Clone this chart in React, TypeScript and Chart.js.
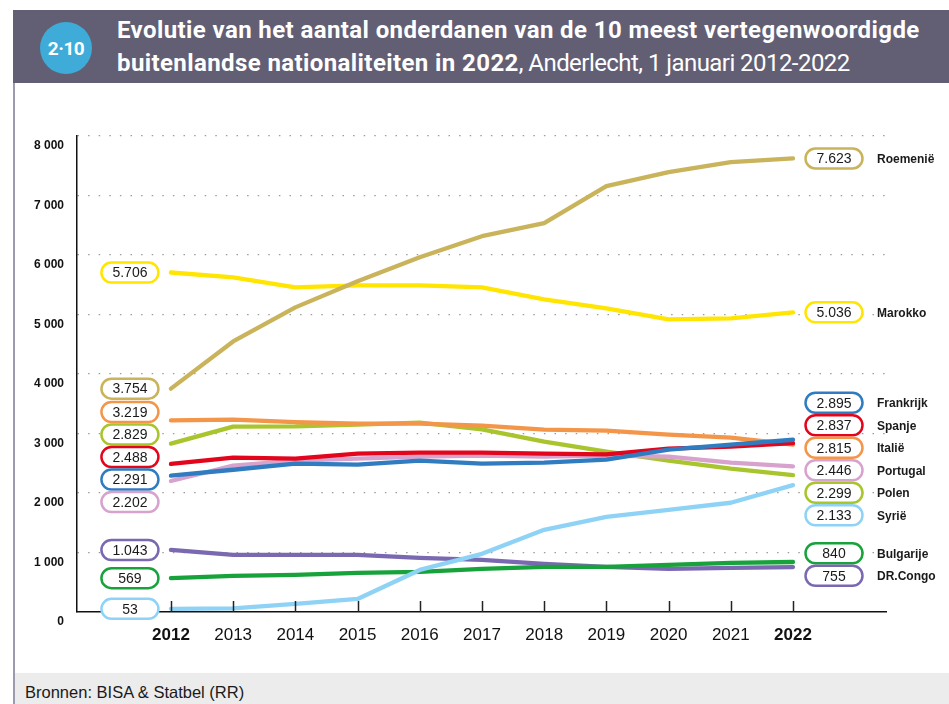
import React, { useEffect, useRef } from "react";
import { Chart, registerables } from "chart.js";

Chart.register(...registerables);

const years = [2012, 2013, 2014, 2015, 2016, 2017, 2018, 2019, 2020, 2021, 2022];
const yTicks = [0, 1000, 2000, 3000, 4000, 5000, 6000, 7000, 8000];

const roemenie = [3754, 4547, 5120, 5558, 5962, 6316, 6535, 7158, 7394, 7562, 7623];
const marokko = [5706, 5625, 5457, 5490, 5490, 5457, 5255, 5103, 4918, 4935, 5036];
const frankrijk = [2291, 2391, 2493, 2476, 2543, 2493, 2509, 2560, 2728, 2812, 2895];
const spanje = [2488, 2594, 2577, 2661, 2678, 2678, 2661, 2650, 2745, 2779, 2837];
const italie = [3219, 3234, 3190, 3166, 3166, 3133, 3065, 3048, 2981, 2930, 2815];
const portugal = [2202, 2459, 2543, 2577, 2610, 2627, 2610, 2630, 2610, 2509, 2446];
const polen = [2829, 3116, 3120, 3150, 3183, 3070, 2863, 2695, 2543, 2408, 2299];
const syrie = [53, 60, 135, 219, 707, 977, 1381, 1600, 1718, 1836, 2133];
const bulgarije = [569, 606, 623, 657, 674, 724, 758, 758, 792, 825, 840];
const drcongo = [1043, 960, 960, 960, 909, 875, 808, 758, 724, 741, 755];

const seriesNames = ["Roemenië", "Marokko", "Frankrijk", "Spanje", "Italië", "Portugal", "Polen", "Syrië", "Bulgarije", "DR.Congo"];
const seriesValues = [roemenie, marokko, frankrijk, spanje, italie, portugal, polen, syrie, bulgarije, drcongo];
const seriesColors = ["#c9b35b", "#ffe500", "#2f7cc1", "#e3051b", "#f4964a", "#d8a2ce", "#a9c52e", "#8ed3f5", "#18a23b", "#7a69b1"];

const TEXT_FONT = "'Liberation Sans', Arial, sans-serif";

function fmtNum(v: number): string {
  const s = String(Math.round(v));
  return s.length > 3 ? s.slice(0, s.length - 3) + "." + s.slice(s.length - 3) : s;
}

function fmtTick(v: number): string {
  const s = String(Math.round(v));
  return s.length > 3 ? s.slice(0, s.length - 3) + " " + s.slice(s.length - 3) : s;
}

type Item = { y: number; idx: number; pos?: number };

function spreadLabels(items: Item[], gap: number): Item[] {
  const sorted = [...items].sort((a, b) => a.y - b.y);
  let groups = sorted.map((it) => ({ items: [it] }));
  const center = (g: { items: Item[] }) => g.items.reduce((s, i) => s + i.y, 0) / g.items.length;
  const top = (g: { items: Item[] }) => center(g) - ((g.items.length - 1) / 2) * gap;
  const bottom = (g: { items: Item[] }) => center(g) + ((g.items.length - 1) / 2) * gap;
  let changed = true;
  while (changed) {
    changed = false;
    for (let i = 0; i < groups.length - 1; i++) {
      if (bottom(groups[i]) + gap > top(groups[i + 1])) {
        groups[i] = { items: groups[i].items.concat(groups[i + 1].items) };
        groups.splice(i + 1, 1);
        changed = true;
        break;
      }
    }
  }
  const out: Item[] = [];
  groups.forEach((g) => {
    const t = top(g);
    g.items.forEach((it, k) => out.push({ ...it, pos: t + k * gap }));
  });
  return out;
}

function drawPill(ctx: CanvasRenderingContext2D, cx: number, cy: number, color: string, text: string) {
  const w = 57;
  const h = 20;
  ctx.save();
  ctx.beginPath();
  (ctx as any).roundRect(cx - w / 2, cy - h / 2, w, h, 10);
  ctx.fillStyle = "#ffffff";
  ctx.fill();
  ctx.lineWidth = 2.5;
  ctx.strokeStyle = color;
  ctx.stroke();
  ctx.fillStyle = "#1a1a1a";
  ctx.font = `14px ${TEXT_FONT}`;
  ctx.textAlign = "center";
  ctx.textBaseline = "middle";
  ctx.fillText(text, cx, cy + 1);
  ctx.restore();
}

const labelPlugin = {
  id: "pillLabels",
  afterDatasetsDraw(chart: any) {
    const ctx: CanvasRenderingContext2D = chart.ctx;
    const xs = chart.scales.x;
    const ys = chart.scales.y;
    const area = chart.chartArea;

    // inner tick marks on the x axis
    ctx.save();
    ctx.strokeStyle = "#222";
    ctx.lineWidth = 1.5;
    years.forEach((yr) => {
      const px = Math.round(xs.getPixelForValue(yr)) + 0.5;
      ctx.beginPath();
      ctx.moveTo(px, area.bottom);
      ctx.lineTo(px, area.bottom - 11);
      ctx.stroke();
    });
    ctx.restore();

    const x0 = xs.getPixelForValue(years[0]);
    const x1 = xs.getPixelForValue(years[years.length - 1]);
    const left = spreadLabels(
      seriesValues.map((v, i) => ({ y: ys.getPixelForValue(v[0]), idx: i })),
      22.5
    );
    const right = spreadLabels(
      seriesValues.map((v, i) => ({ y: ys.getPixelForValue(v[v.length - 1]), idx: i })),
      22.5
    );
    left.forEach((it) => {
      drawPill(ctx, x0 - 41, it.pos as number, seriesColors[it.idx], fmtNum(seriesValues[it.idx][0]));
    });
    right.forEach((it) => {
      const vals = seriesValues[it.idx];
      drawPill(ctx, x1 + 41, it.pos as number, seriesColors[it.idx], fmtNum(vals[vals.length - 1]));
      ctx.save();
      ctx.fillStyle = "#1a1a1a";
      ctx.font = `bold 12px ${TEXT_FONT}`;
      ctx.textAlign = "left";
      ctx.textBaseline = "middle";
      ctx.fillText(seriesNames[it.idx], x1 + 84, (it.pos as number) + 1);
      ctx.restore();
    });
  },
};

function LineChart() {
  const ref = useRef<HTMLCanvasElement | null>(null);
  useEffect(() => {
    if (!ref.current) return;
    const chart = new Chart(ref.current, {
      type: "line",
      data: {
        datasets: seriesValues.map((vals, i) => ({
          label: seriesNames[i],
          data: years.map((yr, k) => ({ x: yr, y: vals[k] })),
          borderColor: seriesColors[i],
          backgroundColor: seriesColors[i],
          borderWidth: 4.3,
          pointRadius: 0,
          tension: 0,
          borderCapStyle: "round",
          borderJoinStyle: "round",
          fill: false,
        })),
      },
      options: {
        responsive: false,
        animation: false,
        devicePixelRatio: 1,
        events: [],
        layout: { padding: { left: 0, top: 36, right: 63, bottom: 0 } },
        plugins: { legend: { display: false }, tooltip: { enabled: false } },
        scales: {
          x: {
            type: "linear",
            min: years[0] - 1.51,
            max: years[years.length - 1] + 1.495,
            afterBuildTicks: (scale: any) => {
              scale.ticks = years.map((v) => ({ value: v }));
            },
            afterFit: (scale: any) => {
              scale.height = 58;
            },
            grid: { display: false, drawTicks: false },
            border: { display: true, color: "#111", width: 1.5 },
            ticks: {
              padding: 13,
              color: "#111",
              maxRotation: 0,
              autoSkip: false,
              callback: (v: any) => String(v),
              font: (c: any) => ({
                family: TEXT_FONT,
                size: 17,
                weight: c.tick && (c.tick.value === years[0] || c.tick.value === years[years.length - 1]) ? "bold" : "normal",
              }),
            },
          },
          y: {
            type: "linear",
            min: yTicks[0],
            max: yTicks[yTicks.length - 1],
            afterBuildTicks: (scale: any) => {
              scale.ticks = yTicks.map((v) => ({ value: v }));
            },
            afterFit: (scale: any) => {
              scale.width = 77;
            },
            grid: {
              drawTicks: false,
              color: (c: any) => (c.tick && c.tick.value === 0 ? "rgba(0,0,0,0)" : "#9c9c9c"),
              lineWidth: 1.3,
            },
            border: { display: true, color: "#111", width: 1.5, dash: [1.5, 9.1] },
            ticks: {
              padding: 13,
              labelOffset: 10,
              color: "#111",
              font: { family: TEXT_FONT, size: 12, weight: "bold" },
              callback: (v: any) => fmtTick(Number(v)),
            },
          },
        },
      },
      plugins: [labelPlugin],
    } as any);
    return () => chart.destroy();
  }, []);
  return (
    <canvas
      ref={ref}
      width={949}
      height={570}
      style={{ position: "absolute", left: 0, top: 100, width: 949, height: 570 }}
    />
  );
}

export default function App() {
  return (
    <div
      style={{
        position: "absolute",
        left: 0,
        top: 0,
        width: 949,
        height: 704,
        overflow: "hidden",
        background: "#ffffff",
        fontFamily: "Roboto, sans-serif",
      }}
    >
      <div
        style={{
          position: "absolute",
          left: 13,
          top: 10,
          width: 936,
          height: 73,
          background: "#625e74",
        }}
      />
      <div
        style={{
          position: "absolute",
          left: 40,
          top: 22,
          width: 52,
          height: 52,
          borderRadius: "50%",
          background: "#3eabd8",
          color: "#fff",
          fontFamily: "Roboto, sans-serif",
          fontWeight: 700,
          fontSize: 19,
          display: "flex",
          alignItems: "center",
          justifyContent: "center",
          letterSpacing: -0.5,
        }}
      >
        2·10
      </div>
      <div
        style={{
          position: "absolute",
          left: 117,
          top: 14,
          color: "#fff",
          fontFamily: "Roboto, sans-serif",
          fontSize: 24,
          lineHeight: "33px",
          whiteSpace: "nowrap",
        }}
      >
        <div style={{ fontWeight: 700, letterSpacing: 0.4 }}>
          Evolutie van het aantal onderdanen van de 10 meest vertegenwoordigde
        </div>
        <div>
          <span style={{ fontWeight: 700, letterSpacing: 0.4 }}>buitenlandse nationaliteiten in 2022</span>
          <span style={{ fontWeight: 400, letterSpacing: -0.55 }}>, Anderlecht, 1 januari 2012-2022</span>
        </div>
      </div>
      <div
        style={{
          position: "absolute",
          left: 13,
          top: 83,
          width: 2,
          height: 621,
          background: "#9c9aae",
        }}
      />
      <div
        style={{
          position: "absolute",
          left: 15,
          top: 673,
          width: 934,
          height: 31,
          background: "#ececec",
        }}
      />
      <div
        style={{
          position: "absolute",
          left: 25,
          top: 683,
          fontFamily: "'Liberation Sans', Arial, sans-serif",
          fontSize: 16.5,
          color: "#1a1a1a",
          whiteSpace: "nowrap",
        }}
      >
        Bronnen: BISA &amp; Statbel (RR)
      </div>
      <LineChart />
    </div>
  );
}
